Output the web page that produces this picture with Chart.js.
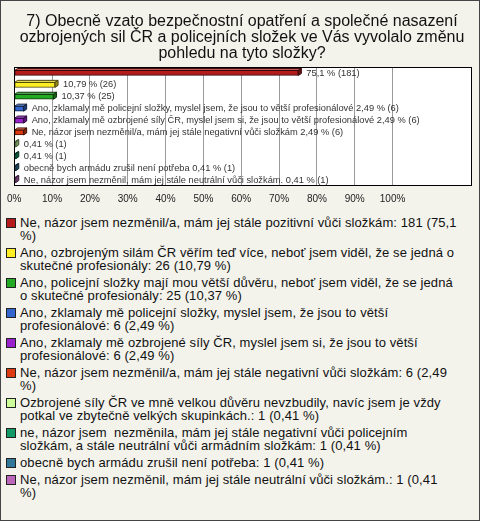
<!DOCTYPE html>
<html>
<head>
<meta charset="utf-8">
<script src="https://cdn.jsdelivr.net/npm/chart.js@4.4.1/dist/chart.umd.min.js"></script>
<style>
  html,body{margin:0;padding:0;}
  body{width:480px;height:521px;overflow:hidden;}
  #frame{position:absolute;left:0;top:0;width:478px;height:519px;border:1px solid #444;background:#f3f3ec;}
  #c{position:absolute;left:-1px;top:-1px;}
  #legend{position:absolute;left:5px;top:215px;width:470px;font-family:"Liberation Sans",Arial,sans-serif;font-size:13px;line-height:13px;color:#111;letter-spacing:0.1px;}
  .item{position:relative;padding-left:14px;margin-bottom:4px;}
  .ln{white-space:pre;display:block;}
  .sw{position:absolute;left:0;top:2px;width:8px;height:8px;border:1px solid #222;}
</style>
</head>
<body>
<div id="frame">
  <canvas id="c" width="480" height="210"></canvas>
  <div id="legend"></div>
</div>
<script>
const titleLines = [
  "7) Obecně vzato bezpečnostní opatření a společné nasazení",
  "ozbrojených sil ČR a policejních složek ve Vás vyvolalo změnu",
  "pohledu na tyto složky?"
];
const categories = [
  "Ne, názor jsem nezměnil/a, mám jej stále pozitivní vůči složkám",
  "Ano, ozbrojeným silám ČR věřím teď více, neboť jsem viděl, že se jedná o skutečné profesionály",
  "Ano, policejní složky mají mou větší důvěru, neboť jsem viděl, že se jedná o skutečné profesionály",
  "Ano, zklamaly mě policejní složky, myslel jsem, že jsou to větší profesionálové",
  "Ano, zklamaly mě ozbrojené síly ČR, myslel jsem si, že jsou to větší profesionálové",
  "Ne, názor jsem nezměnil/a, mám jej stále negativní vůči složkám",
  "Ozbrojené síly ČR ve mně velkou důvěru nevzbudily, navíc jsem je vždy potkal ve zbytečně velkých skupinkách.",
  "ne, názor jsem  nezměnila, mám jej stále negativní vůči policejním složkám, a stále neutrální vůči armádním složkám",
  "obecně bych armádu zrušil není potřeba",
  "Ne, názor jsem nezměnil, mám jej stále neutrální vůči složkám."
];
const counts = [181, 26, 25, 6, 6, 6, 1, 1, 1, 1];
const percents = [75.1, 10.79, 10.37, 2.49, 2.49, 2.49, 0.41, 0.41, 0.41, 0.41];
const barLabelPrefixes = [
  "", "", "",
  "Ano, zklamaly mě policejní složky, myslel jsem, že jsou to větší profesionálové",
  "Ano, zklamaly mě ozbrojené síly ČR, myslel jsem si, že jsou to větší profesionálové",
  "Ne, názor jsem nezměnil/a, mám jej stále negativní vůči složkám",
  "", "",
  "obecně bych armádu zrušil není potřeba",
  "Ne, názor jsem nezměnil, mám jej stále neutrální vůči složkám."
];
const legendLines = [
  ["Ne, názor jsem nezměnil/a, mám jej stále pozitivní vůči složkám: 181 (75,1", "%)"],
  ["Ano, ozbrojeným silám ČR věřím teď více, neboť jsem viděl, že se jedná o", "skutečné profesionály: 26 (10,79 %)"],
  ["Ano, policejní složky mají mou větší důvěru, neboť jsem viděl, že se jedná", "o skutečné profesionály: 25 (10,37 %)"],
  ["Ano, zklamaly mě policejní složky, myslel jsem, že jsou to větší", "profesionálové: 6 (2,49 %)"],
  ["Ano, zklamaly mě ozbrojené síly ČR, myslel jsem si, že jsou to větší", "profesionálové: 6 (2,49 %)"],
  ["Ne, názor jsem nezměnil/a, mám jej stále negativní vůči složkám: 6 (2,49", "%)"],
  ["Ozbrojené síly ČR ve mně velkou důvěru nevzbudily, navíc jsem je vždy", "potkal ve zbytečně velkých skupinkách.: 1 (0,41 %)"],
  ["ne, názor jsem  nezměnila, mám jej stále negativní vůči policejním", "složkám, a stále neutrální vůči armádním složkám: 1 (0,41 %)"],
  ["obecně bych armádu zrušil není potřeba: 1 (0,41 %)"],
  ["Ne, názor jsem nezměnil, mám jej stále neutrální vůči složkám.: 1 (0,41", "%)"]
];
const colors = ["#b41c1c","#ffee22","#22aa22","#3366cc","#9922cc","#dd3a12","#ccff99","#129966","#337799","#bb66bb"];
const xTickValues = [0,10,20,30,40,50,60,70,80,90,100];

const fmt = v => String(v).replace('.', ',');

function shade(hex, f){
  const n = parseInt(hex.slice(1),16);
  let r=(n>>16)&255,g=(n>>8)&255,b=n&255;
  if(f<0){r=Math.round(r*(1+f));g=Math.round(g*(1+f));b=Math.round(b*(1+f));}
  else{r=Math.round(r+(255-r)*f);g=Math.round(g+(255-g)*f);b=Math.round(b+(255-b)*f);}
  return 'rgb('+r+','+g+','+b+')';
}

const plotDeco = {
  id:'plotDeco',
  beforeDraw(chart){
    const {ctx, chartArea:a} = chart;
    ctx.save(); ctx.fillStyle='#ffffff';
    ctx.fillRect(a.left,a.top,a.right-a.left,a.bottom-a.top);
    ctx.restore();
  },
  afterDatasetsDraw(chart){
    const {ctx} = chart;
    const meta = chart.getDatasetMeta(0);
    const d = 3;
    ctx.save();
    meta.data.forEach((bar,i)=>{
      const p = bar.getProps(['x','y','base','height'], true);
      const top = p.y - p.height/2, bot = p.y + p.height/2;
      const x0 = p.base, x1 = p.x;
      ctx.lineWidth = 1;
      ctx.strokeStyle = shade(colors[i], -0.7);
      ctx.beginPath();
      ctx.moveTo(x0, top); ctx.lineTo(x0+d, top-d+1); ctx.lineTo(x1+d, top-d+1); ctx.lineTo(x1, top); ctx.closePath();
      ctx.fillStyle = shade(colors[i], 0.3); ctx.fill(); ctx.stroke();
      ctx.beginPath();
      ctx.moveTo(x1, top); ctx.lineTo(x1+d, top-d+1); ctx.lineTo(x1+d, bot-d+1); ctx.lineTo(x1, bot); ctx.closePath();
      ctx.fillStyle = shade(colors[i], -0.4); ctx.fill(); ctx.stroke();
      const pre = barLabelPrefixes[i];
      const txt = (pre ? pre + ' ' : '') + fmt(percents[i]) + ' % (' + counts[i] + ')';
      ctx.fillStyle = '#333';
      ctx.font = '9.3px "Liberation Sans", Arial, sans-serif';
      ctx.textBaseline = 'middle';
      ctx.textAlign = 'left';
      ctx.fillText(txt, x1 + 8, p.y);
    });
    ctx.restore();
  },
  afterDraw(chart){
    const {ctx, chartArea:a} = chart;
    ctx.save(); ctx.strokeStyle='#000'; ctx.lineWidth=1;
    ctx.strokeRect(Math.round(a.left)+0.5, Math.round(a.top)+0.5, Math.round(a.right-a.left)-1, Math.round(a.bottom-a.top)-1);
    ctx.restore();
  }
};

new Chart(document.getElementById('c'), {
  type:'bar',
  data:{
    labels: categories,
    datasets:[{
      data: percents,
      backgroundColor: colors,
      borderColor: colors.map(c=>shade(c,-0.7)),
      borderWidth: 1,
      borderSkipped: false,
      barThickness: 5
    }]
  },
  options:{
    indexAxis:'y',
    responsive:false,
    animation:false,
    devicePixelRatio:1,
    layout:{padding:{left:12,right:8,top:0,bottom:0}},
    plugins:{
      legend:{display:false},
      tooltip:{enabled:false},
      title:{
        display:true,
        text:titleLines,
        color:'#111',
        font:{family:'"Liberation Sans", Arial, sans-serif', size:16, weight:'normal', lineHeight:1.0},
        padding:{top:14,bottom:5}
      }
    },
    scales:{
      x:{
        min:0, max:121,
        afterBuildTicks(scale){ scale.ticks = xTickValues.map(v=>({value:v})); },
        afterFit(scale){ scale.height = 24; },
        border:{display:false},
        grid:{color:'#9a9a9a', drawTicks:false, lineWidth:1},
        ticks:{
          padding:7,
          color:'#222',
          font:{family:'"Liberation Sans", Arial, sans-serif', size:10},
          callback:v=>v+'%'
        }
      },
      y:{
        afterFit(scale){ scale.width = 0; },
        ticks:{display:false},
        grid:{display:false, drawTicks:false},
        border:{display:false}
      }
    }
  },
  plugins:[plotDeco]
});

const legend = document.getElementById('legend');
legendLines.forEach((lines,i)=>{
  const item = document.createElement('div');
  item.className='item';
  const sw = document.createElement('span');
  sw.className='sw'; sw.style.background = colors[i];
  item.appendChild(sw);
  lines.forEach(t=>{
    const s = document.createElement('span');
    s.className='ln'; s.textContent = t;
    item.appendChild(s);
  });
  legend.appendChild(item);
});
</script>
</body>
</html>
